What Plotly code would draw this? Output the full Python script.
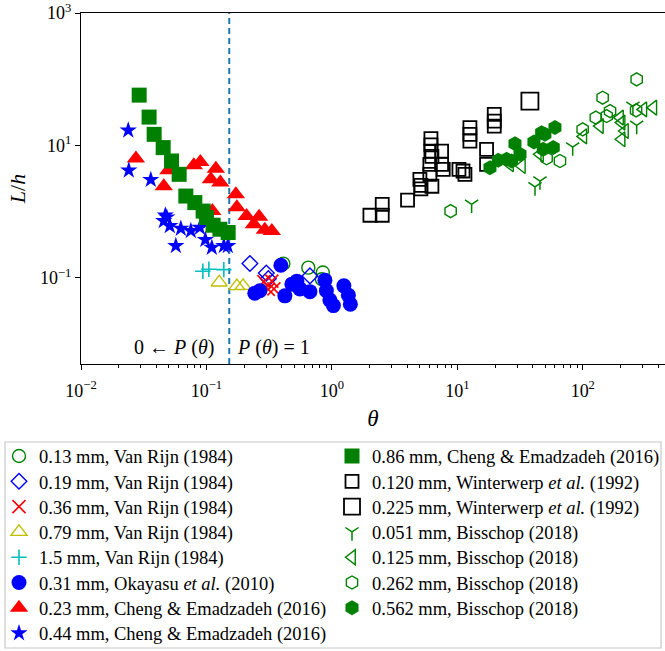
import plotly.graph_objects as go

FONT = "Liberation Serif, Times New Roman, serif"

# ---------------- data (theta, L/h) ----------------
vr013_theta = [0.410, 0.649, 0.847, 0.832]
vr013_lh = [0.164, 0.1425, 0.1206, 0.0955]

vr019_theta = [0.222, 0.300, 0.3115, 0.668]
vr019_lh = [0.165, 0.118, 0.0973, 0.107]

vr036_theta = [0.287, 0.332, 0.3115, 0.345]
vr036_lh = [0.0877, 0.0892, 0.0670, 0.0681]

vr079_theta = [0.1263, 0.1747, 0.196]
vr079_lh = [0.0853, 0.0750, 0.0757]

vr15_theta = [0.0936, 0.1045, 0.1376]
vr15_lh = [0.126, 0.135, 0.133]

ok031_theta = [0.392, 0.243, 0.2666, 0.422, 0.480, 0.526, 0.556, 0.668, 0.880,
               0.904, 0.964, 1.028, 1.246, 1.353, 1.404]
ok031_lh = [0.155, 0.0588, 0.0637, 0.0535, 0.0804, 0.0892, 0.0681, 0.0619, 0.0923,
            0.0641, 0.0461, 0.0381, 0.0757, 0.0548, 0.0401]

ce023_theta = [0.0274, 0.0457, 0.0497, 0.0793, 0.0894, 0.1188, 0.1084, 0.129,
               0.1114, 0.1716, 0.1747, 0.2088, 0.263, 0.2388, 0.292, 0.332]
ce023_lh = [6.32, 2.42, 4.21, 5.01, 5.62, 4.44, 3.08, 2.75,
            1.02, 1.83, 1.16, 0.861, 0.838, 0.646, 0.533, 0.512]

ce044_theta = [0.0238, 0.02405, 0.0360, 0.0470, 0.0457, 0.0510, 0.0483, 0.0625,
               0.0751, 0.0886, 0.0570, 0.098, 0.1104, 0.1376, 0.148]
ce044_lh = [16.9, 4.21, 3.03, 0.882, 0.724, 0.609, 0.823, 0.556,
            0.512, 0.575, 0.304, 0.377, 0.287, 0.304, 0.304]

ce086_theta = [0.0291, 0.0349, 0.0383, 0.0452, 0.0527, 0.0606, 0.0685, 0.0808,
               0.0941, 0.100, 0.113, 0.128, 0.149]
ce086_lh = [57.5, 26.8, 14.7, 9.27, 5.82, 3.66, 1.72, 1.37,
            1.02, 0.815, 0.624, 0.542, 0.484]

ww0120_theta = [2.01, 2.52, 2.52, 4.01, 5.03, 5.12, 5.12, 6.16, 6.16, 6.16, 6.27,
                6.04, 6.04, 6.27, 7.49, 7.49, 7.72, 10.3, 11.1, 11.5, 12.6, 12.6,
                12.6, 19.7, 19.7, 19.7, 17.1, 17.1]
ww0120_lh = [0.882, 1.29, 0.882, 1.49, 3.08, 2.50, 2.20, 12.7, 10.2, 8.23, 6.85,
             5.19, 3.66, 2.42, 8.23, 5.19, 4.36, 4.36, 4.11, 3.66, 18.6, 14.7,
             11.65, 29.4, 23.3, 19.6, 8.73, 5.19]

ww0225_theta = [37.9]
ww0225_lh = [46.7]

bs051_theta = [13.0, 41.6, 45.6, 83.1, 269, 251]
bs051_lh = [1.29, 2.37, 2.90, 9.46, 20.1, 38.9]

bs125_theta = [26.3, 32.7, 45.6, 101, 137, 198, 204, 204, 217, 304, 365]
bs125_lh = [5.19, 4.89, 7.34, 13.7, 19.6, 26.3, 22.1, 12.4, 16.5, 35.0, 37.2]

bs262_theta = [8.84, 51.5, 65.8, 99.8, 127, 155, 165, 144, 269, 266]
bs262_lh = [1.02, 6.39, 5.82, 17.5, 26.3, 27.8, 33.0, 52.6, 99.3, 33.9]

bs562_theta = [18.2, 21.2, 24.7, 27.1, 28.8, 31.6, 40.8, 49.9, 60.0, 58.2, 48.4, 47.0]
bs562_lh = [4.62, 5.96, 6.17, 5.82, 10.6, 7.34, 11.3, 14.7, 18.6, 9.27, 8.73, 15.6]

theta_c = [0.152, 0.152]
theta_c_lh = [5e-3, 1e3]

x_tickvals = [1e-2, 1e-1, 1e0, 1e1, 1e2]
x_ticktext = ["10<sup>\u22122</sup>", "10<sup>\u22121</sup>", "10<sup>0</sup>",
              "10<sup>1</sup>", "10<sup>2</sup>"]
y_tickvals = [1e-1, 1e1, 1e3]
y_ticktext = ["10<sup>\u22121</sup>", "10<sup>1</sup>", "10<sup>3</sup>"]
x_minor = [m * 10.0 ** e for e in range(-2, 3) for m in range(2, 10)]

# ---------------- series definitions ----------------
GREEN, BLUE, RED = "#008000", "#0000ff", "#ff0000"
YELLOW, CYAN, BLACK = "#bfbf00", "#00bfbf", "#000000"

# (name, x, y, symbol, size, colour, line width, legend column)
series = [
    ("0.13 mm, Van Rijn (1984)", vr013_theta, vr013_lh, "circle-open", 13, GREEN, 1.4, 0),
    ("0.19 mm, Van Rijn (1984)", vr019_theta, vr019_lh, "diamond-open", 12, BLUE, 1.4, 0),
    ("0.36 mm, Van Rijn (1984)", vr036_theta, vr036_lh, "x-thin", 13, RED, 1.6, 0),
    ("0.79 mm, Van Rijn (1984)", vr079_theta, vr079_lh, "triangle-up-open", 14, YELLOW, 1.4, 0),
    ("1.5 mm, Van Rijn (1984)", vr15_theta, vr15_lh, "cross-thin", 11, CYAN, 1.6, 0),
    ("0.31 mm, Okayasu <i>et al.</i> (2010)", ok031_theta, ok031_lh, "circle", 15, BLUE, 0, 0),
    ("0.23 mm, Cheng &amp; Emadzadeh (2016)", ce023_theta, ce023_lh, "triangle-up", 16, RED, 0, 0),
    ("0.44 mm, Cheng &amp; Emadzadeh (2016)", ce044_theta, ce044_lh, "star", 13, BLUE, 0, 0),
    ("0.86 mm, Cheng &amp; Emadzadeh (2016)", ce086_theta, ce086_lh, "square", 15, GREEN, 0, 1),
    ("0.120 mm, Winterwerp <i>et al.</i> (1992)", ww0120_theta, ww0120_lh, "square-open", 13, BLACK, 1.8, 1),
    ("0.225 mm, Winterwerp <i>et al.</i> (1992)", ww0225_theta, ww0225_lh, "square-open", 17, BLACK, 1.8, 1),
    ("0.051 mm, Bisschop (2018)", bs051_theta, bs051_lh, "y-down", 11, GREEN, 1.5, 1),
    ("0.125 mm, Bisschop (2018)", bs125_theta, bs125_lh, "triangle-left-open", 13, GREEN, 1.4, 1),
    ("0.262 mm, Bisschop (2018)", bs262_theta, bs262_lh, "hexagon-open", 13, GREEN, 1.4, 1),
    ("0.562 mm, Bisschop (2018)", bs562_theta, bs562_lh, "hexagon", 15, GREEN, 0, 1),
]

W, H = 665, 651
L_M, T_M, B_M = 81, 13, 287
PW, PH = W - L_M, H - T_M - B_M


def px2paper_x(px):
    return (px - L_M) / PW


def px2paper_y(py):
    return (H - B_M - py) / PH


LEG_FS = 18.5
ROW0, ROW_DY = 456, 25.3
COL_X = [-1, 332]
ITEM_H = LEG_FS * 1.3 + 3

fig = go.Figure()

fig.add_trace(go.Scatter(x=theta_c, y=theta_c_lh, mode="lines",
                         line=dict(color="#1f77b4", width=2, dash="6px,4px"),
                         showlegend=False, hoverinfo="skip"))

legends = {}
row_count = [0, 0]
for k, (name, xs, ys, sym, size, col, lw, column) in enumerate(series):
    leg_id = "legend" if k == 0 else f"legend{k + 1}"
    row = row_count[column]
    row_count[column] += 1
    centre = ROW0 + ROW_DY * row
    top = centre - 5 - ITEM_H / 2
    legends[leg_id] = dict(
        x=px2paper_x(COL_X[column]), y=px2paper_y(top),
        xanchor="left", yanchor="top", bgcolor="rgba(0,0,0,0)", borderwidth=0,
        font=dict(family=FONT, size=LEG_FS, color="black"))
    fig.add_trace(go.Scatter(
        x=xs, y=ys, mode="markers", name=name, legend=leg_id,
        marker=dict(symbol=sym, size=size, color=col,
                    line=dict(color=col, width=lw)),
    ))

fig.update_layout(
    width=W, height=H,
    margin=dict(l=L_M, r=0, t=T_M, b=B_M, autoexpand=False),
    paper_bgcolor="white", plot_bgcolor="white",
    font=dict(family=FONT, size=18, color="black"),
    xaxis=dict(type="log", range=[-2, 2.6555], showline=True, linecolor="black",
               linewidth=1, mirror=True, ticks="outside", ticklen=5, tickwidth=1,
               tickcolor="black", tickvals=x_tickvals, ticktext=x_ticktext,
               showgrid=False, zeroline=False, tickfont=dict(size=18),
               ticklabelstandoff=5,
               minor=dict(tickvals=x_minor, ticks="outside", ticklen=3,
                          tickcolor="black", tickwidth=1, showgrid=False),
               title=dict(text="<i>θ</i>", font=dict(size=23), standoff=10)),
    yaxis=dict(type="log", range=[-2.301, 3], showline=True, linecolor="black",
               linewidth=1, mirror=False, ticks="outside", ticklen=5, tickwidth=1,
               tickcolor="black", tickvals=y_tickvals, ticktext=y_ticktext,
               showgrid=False, zeroline=False, tickfont=dict(size=18),
               title=dict(text="<i>L</i>/<i>h</i>", font=dict(size=22), standoff=8)),
    shapes=[dict(type="rect", xref="paper", yref="paper",
                 x0=px2paper_x(5), x1=px2paper_x(661),
                 y0=px2paper_y(648), y1=px2paper_y(442),
                 line=dict(color="#c8c8c8", width=1.2), fillcolor="rgba(0,0,0,0)")],
    annotations=[
        dict(text="0 \u2190 <i>P</i> (<i>θ</i>)", xref="paper", yref="paper",
             x=px2paper_x(174), y=px2paper_y(347), xanchor="center", yanchor="middle",
             showarrow=False, font=dict(size=20)),
        dict(text="<i>P</i> (<i>θ</i>) = 1", xref="paper", yref="paper",
             x=px2paper_x(273), y=px2paper_y(347), xanchor="center", yanchor="middle",
             showarrow=False, font=dict(size=20)),
    ],
    **legends,
)

fig.write_html("out.html", config={"displayModeBar": False},
               post_script="document.body.style.margin='0';")
